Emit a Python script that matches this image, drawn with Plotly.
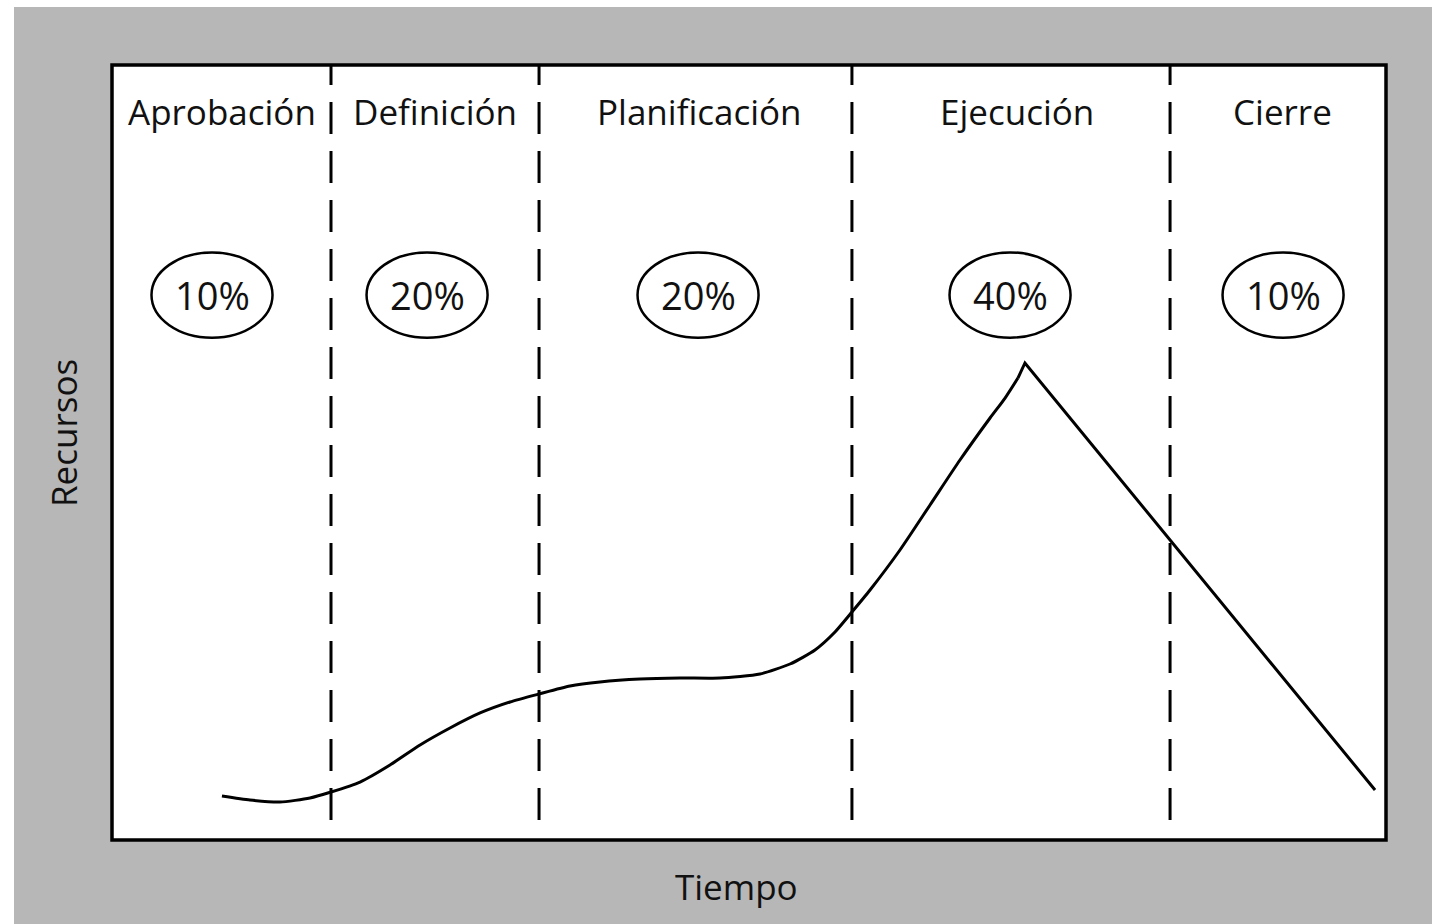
import plotly.graph_objects as go

# ---- data ----
phases = ["Aprobación", "Definición", "Planificación", "Ejecución", "Cierre"]
phase_share = ["10%", "20%", "20%", "40%", "10%"]
phase_bounds = [17.19, 33.52, 58.08, 83.05]  # time at phase boundaries

# rising part of the resource curve (smooth)
time_rise = [8.63, 10.83, 13.19, 15.54, 17.19, 19.47, 21.82, 24.18, 26.53, 28.89,
             31.24, 33.52, 35.95, 38.30, 41.44, 44.58, 47.72, 50.86, 53.22, 55.18,
             56.75, 58.08, 59.50, 61.85, 64.21, 66.56, 68.92, 70.10, 71.11]
res_rise = [5.68, 5.16, 4.90, 5.42, 6.19, 7.48, 9.68, 12.26, 14.45, 16.39,
            17.81, 18.84, 19.87, 20.39, 20.77, 20.90, 20.90, 21.42, 22.71, 24.52,
            26.84, 29.42, 32.26, 37.42, 43.23, 49.03, 54.45, 57.03, 59.61]
# peak and decline (straight)
time_fall = [71.11, 71.66, 99.14]
res_fall = [59.61, 61.55, 6.45]

label_x = [8.63, 25.35, 46.08, 71.04, 91.84]
share_x = [7.85, 24.73, 46.00, 70.49, 91.92]

W, H = 1432, 924
ML, MR, MT, MB = 112, 46, 65, 84
PW, PH = W - ML - MR, H - MT - MB

def xp(px):
    return (px - ML) / PW

def yp(py):
    return (H - MB - py) / PH

FONT = "Open Sans"
GRAY = "#b7b7b7"
WEIGHT = 500

fig = go.Figure()
fig.add_trace(go.Scatter(x=time_rise, y=res_rise, mode="lines",
                         line=dict(color="black", width=3, shape="spline", smoothing=0.6),
                         hoverinfo="skip", showlegend=False))
fig.add_trace(go.Scatter(x=time_fall, y=res_fall, mode="lines",
                         line=dict(color="black", width=3),
                         hoverinfo="skip", showlegend=False))

shapes = []
# white margins outside gray background
shapes.append(dict(type="rect", xref="paper", yref="paper", x0=xp(0), x1=xp(W), y0=yp(7), y1=yp(0),
                   fillcolor="white", line=dict(width=0), layer="below"))
shapes.append(dict(type="rect", xref="paper", yref="paper", x0=xp(0), x1=xp(14), y0=yp(H), y1=yp(0),
                   fillcolor="white", line=dict(width=0), layer="below"))
# phase dividers
for b in phase_bounds:
    shapes.append(dict(type="line", xref="x", yref="paper", x0=b, x1=b, y0=yp(820), y1=1,
                       line=dict(color="black", width=3, dash="32px,17px")))
# ellipses
for cx in share_x:
    shapes.append(dict(type="circle", xref="x", yref="y", x0=cx - 4.75, x1=cx + 4.75,
                       y0=70.32 - 5.5, y1=70.32 + 5.5, line=dict(color="black", width=2.5)))
# frame
shapes.append(dict(type="rect", xref="paper", yref="paper", x0=0, x1=1, y0=0, y1=1,
                   line=dict(color="black", width=3.5)))

ann = []
for name, x in zip(phases, label_x):
    ann.append(dict(x=x, y=93.94, xref="x", yref="y", text=name, showarrow=False,
                    xanchor="center", yanchor="middle",
                    font=dict(family=FONT, size=35, color="#111", weight=WEIGHT)))
for s, x in zip(phase_share, share_x):
    ann.append(dict(x=x, y=70.32, xref="x", yref="y", text=s, showarrow=False,
                    xanchor="center", yanchor="middle",
                    font=dict(family=FONT, size=38, color="#111", weight=WEIGHT)))
ann.append(dict(x=xp(736), y=yp(886), xref="paper", yref="paper", text="Tiempo", showarrow=False,
                xanchor="center", yanchor="middle",
                font=dict(family=FONT, size=35, color="#111", weight=WEIGHT)))
ann.append(dict(x=xp(63), y=yp(433), xref="paper", yref="paper", text="Recursos", showarrow=False,
                xanchor="center", yanchor="middle", textangle=-90,
                font=dict(family=FONT, size=35, color="#111", weight=WEIGHT)))

fig.update_layout(
    width=W, height=H, autosize=False,
    margin=dict(l=ML, r=MR, t=MT, b=MB),
    paper_bgcolor=GRAY, plot_bgcolor="white",
    xaxis=dict(range=[0, 100], visible=False, fixedrange=True),
    yaxis=dict(range=[0, 100], visible=False, fixedrange=True),
    shapes=shapes, annotations=ann, showlegend=False,
)
fig.write_html("out.html", config={"displayModeBar": False},
               post_script="document.body.style.margin='0px';document.body.style.overflow='hidden';")
